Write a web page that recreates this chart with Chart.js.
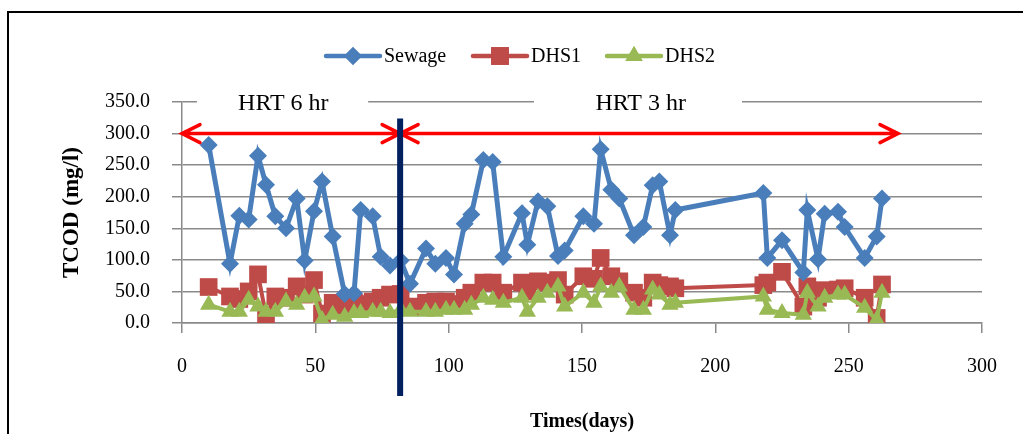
<!DOCTYPE html>
<html>
<head>
<meta charset="utf-8">
<script src="https://cdn.jsdelivr.net/npm/chart.js@4.4.1/dist/chart.umd.min.js"></script>
<style>
  html, body { margin: 0; padding: 0; background: #fff; }
  #wrap { width: 1023px; height: 434px; }
</style>
</head>
<body>
<div id="wrap"><canvas id="tcodChart" width="1023" height="434"></canvas></div>
<script>
// sampling days
var days = [10, 18, 21.5, 25, 28.5, 31.5, 35, 39, 43, 46,
  49.5, 52.5, 56.5, 61, 64.5, 67, 71.5, 74.5, 78, 82,
  85.5, 91.5, 95, 99, 102, 106, 108.5, 113, 116.5, 120.5,
  127.5, 129.5, 133.5, 137, 141, 143.5, 150.5, 154.5, 157, 161,
  164, 169.5, 173, 176.5, 179, 183, 185, 218, 219.5, 225,
  233, 234.5, 238.5, 241, 246, 248.5, 256, 260.5, 262.5];

var sewage = [282, 94, 170, 164, 265, 219, 169, 150, 197, 99,
  177, 224, 137, 46, 47, 179, 169, 105, 91, 99,
  62, 118, 94, 103, 77, 157, 172, 258, 255, 105,
  174, 124, 193, 185, 106, 115, 169, 157, 275, 211,
  197, 139, 152, 218, 224, 139, 179, 206, 103, 131,
  80, 179, 101, 173, 176, 152, 103, 137, 197];

var dhs1 = [57, 42, 38, 50, 77, 12, 42, 40, 58, 45,
  68, 15, 32, 26, 32, 30, 34, 40, 45, 46,
  26, 32, 34, 34, 30, 40, 48, 64, 64, 48,
  64, 50, 66, 64, 68, 45, 74, 70, 103, 74,
  66, 48, 40, 64, 60, 58, 55, 60, 64, 81,
  26, 58, 40, 52, 53, 55, 40, 8, 61];

var dhs2 = [29, 18, 18, 37, 26, 18, 18, 34, 29, 40,
  42, 5, 13, 10, 16, 16, 18, 18, 16, 21,
  18, 18, 18, 21, 21, 21, 29, 40, 37, 32,
  40, 18, 40, 48, 58, 26, 48, 32, 58, 48,
  58, 21, 21, 53, 45, 29, 32, 42, 21, 16,
  13, 48, 26, 40, 45, 45, 24, 5, 48];

var xTicks = [0, 50, 100, 150, 200, 250, 300];
var yTicks = [0, 50, 100, 150, 200, 250, 300, 350];

var BLUE = '#4a7ebb', RED = '#be4b48', GREEN = '#98b954';
var GRID = '#8a8a8a';
var SERIF = '"Liberation Serif", "Times New Roman", serif';

function pts(vals) {
  return days.map(function (d, i) { return { x: d, y: vals[i] }; });
}

var decor = {
  id: 'decor',
  beforeDraw: function (chart) {
    var c = chart.ctx;
    c.save();
    c.fillStyle = '#fff';
    c.fillRect(0, 0, chart.width, chart.height);
    c.strokeStyle = '#000';
    c.lineWidth = 2;
    c.beginPath();
    c.moveTo(8, chart.height);
    c.lineTo(8, 12);
    c.lineTo(chart.width, 12);
    c.stroke();
    c.restore();
  },
  beforeDatasetsDraw: function (chart) {
    var c = chart.ctx, xs = chart.scales.x, ys = chart.scales.y;
    c.save();
    c.fillStyle = '#fff';
    var yTop = ys.getPixelForValue(350);
    c.fillRect(xs.getPixelForValue(5.6), yTop - 12, xs.getPixelForValue(69.8) - xs.getPixelForValue(5.6), 28);
    c.fillRect(xs.getPixelForValue(132), yTop - 12, xs.getPixelForValue(210) - xs.getPixelForValue(132), 28);
    c.fillStyle = '#000';
    c.font = '24px ' + SERIF;
    c.textAlign = 'center';
    c.textBaseline = 'middle';
    c.fillText('HRT 6 hr', xs.getPixelForValue(38), yTop + 2);
    c.fillText('HRT 3 hr', xs.getPixelForValue(172), yTop + 2);
    c.restore();
  },
  afterDatasetsDraw: function (chart) {
    var c = chart.ctx, xs = chart.scales.x, ys = chart.scales.y;
    c.save();
    // HRT arrows
    var ay = ys.getPixelForValue(300);
    var a0 = xs.getPixelForValue(0), a1 = xs.getPixelForValue(81.8), a2 = xs.getPixelForValue(268.5);
    c.strokeStyle = '#ff0000';
    c.lineWidth = 3.5;
    c.lineCap = 'round';
    c.beginPath();
    c.moveTo(a0, ay); c.lineTo(a2, ay);
    function head(x, dir) {
      c.moveTo(x - dir * 18, ay - 9); c.lineTo(x, ay); c.lineTo(x - dir * 18, ay + 9);
    }
    head(a0, -1); head(a1, 1); head(a1, -1); head(a2, 1);
    c.stroke();
    // divider line
    var vx = xs.getPixelForValue(81.8);
    c.strokeStyle = '#002060';
    c.lineWidth = 6;
    c.lineCap = 'butt';
    c.beginPath();
    c.moveTo(vx, ys.getPixelForValue(324));
    c.lineTo(vx, ys.getPixelForValue(0) + 73);
    c.stroke();
    c.restore();
  },
  afterDraw: function (chart) {
    var c = chart.ctx;
    var items = [
      { x: 326, label: 'Sewage', color: BLUE, style: 'rectRot', r: 9 },
      { x: 473, label: 'DHS1', color: RED, style: 'rect', r: 12.5 },
      { x: 607, label: 'DHS2', color: GREEN, style: 'triangle', r: 10 }
    ];
    var ly = 56;
    c.save();
    items.forEach(function (it) {
      c.strokeStyle = it.color;
      c.lineWidth = 4.5;
      c.lineCap = 'round';
      c.beginPath();
      c.moveTo(it.x, ly); c.lineTo(it.x + 54, ly);
      c.stroke();
      c.fillStyle = it.color;
      Chart.helpers.drawPoint(c, { pointStyle: it.style, radius: it.r, borderWidth: 0, rotation: 0 }, it.x + 27, ly);
      c.fill();
      c.fillStyle = '#000';
      c.font = '20px ' + SERIF;
      c.textAlign = 'left';
      c.textBaseline = 'middle';
      c.fillText(it.label, it.x + 58, ly + 1);
    });
    c.restore();
  }
};

var ctx = document.getElementById('tcodChart');
var tcodChart = new Chart(ctx, {
  type: 'line',
  data: {
    datasets: [{
      label: 'Sewage',
      data: pts(sewage),
      borderColor: BLUE,
      backgroundColor: BLUE,
      borderWidth: 5,
      pointStyle: 'rectRot',
      pointRadius: 9,
      pointBorderWidth: 0,
      order: 0
    }, {
      label: 'DHS1',
      data: pts(dhs1),
      borderColor: RED,
      backgroundColor: RED,
      borderWidth: 4,
      pointStyle: 'rect',
      pointRadius: 12.5,
      pointBorderWidth: 0,
      order: 2
    }, {
      label: 'DHS2',
      data: pts(dhs2),
      borderColor: GREEN,
      backgroundColor: GREEN,
      borderWidth: 4,
      pointStyle: 'triangle',
      pointRadius: 10,
      pointBorderWidth: 0,
      order: 1
    }]
  },
  options: {
    responsive: false,
    animation: false,
    layout: { padding: { top: 102, right: 41, left: 0, bottom: 0 } },
    plugins: { legend: { display: false }, tooltip: { enabled: false } },
    scales: {
      x: {
        type: 'linear',
        min: 0, max: 300,
        afterBuildTicks: function (s) { s.ticks = xTicks.map(function (v) { return { value: v }; }); },
        afterFit: function (s) { s.height = 111; },
        ticks: { color: '#000', font: { family: SERIF, size: 20 }, padding: 22, maxRotation: 0 },
        grid: { drawOnChartArea: false, drawTicks: true, tickLength: 10, color: GRID, lineWidth: 1.5 },
        border: { color: GRID, width: 1.5 },
        title: { display: true, text: 'Times(days)', color: '#000', font: { family: SERIF, size: 20, weight: 'bold' }, padding: { top: 8, bottom: 0 } }
      },
      y: {
        min: 0, max: 350,
        afterBuildTicks: function (s) { s.ticks = yTicks.map(function (v) { return { value: v }; }); },
        afterFit: function (s) { s.width = 182; },
        ticks: { color: '#000', font: { family: SERIF, size: 20 }, padding: 22, callback: function (v) { return v.toFixed(1); } },
        grid: { tickLength: 10, color: GRID, lineWidth: 1.5 },
        border: { color: GRID, width: 1.5 },
        title: { display: true, text: 'TCOD (mg/l)', color: '#000', font: { family: SERIF, size: 23, weight: 'bold' }, padding: { top: 58, bottom: 0 } }
      }
    }
  },
  plugins: [decor]
});
</script>
</body>
</html>
